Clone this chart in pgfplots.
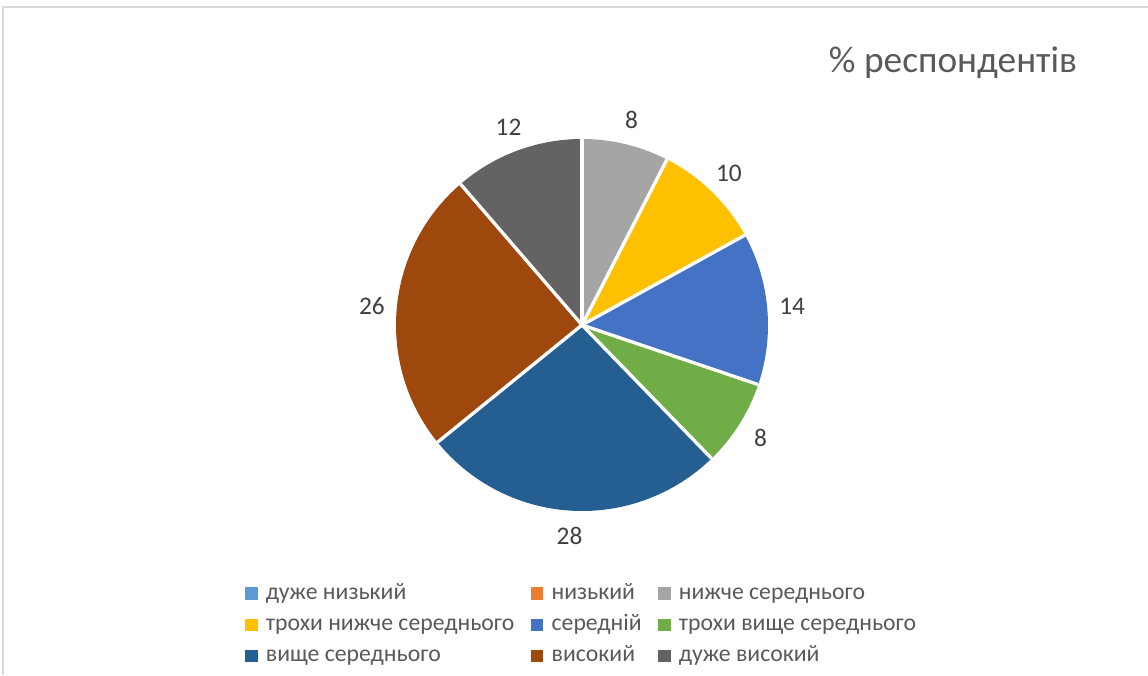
\documentclass[border=0pt]{standalone}
\usepackage{pgfplots}
\pgfplotsset{compat=1.18}
\usepackage{fontspec}
\setmainfont{Carlito}
\definecolor{c1}{HTML}{5B9BD5}
\definecolor{c2}{HTML}{ED7D31}
\definecolor{c3}{HTML}{A5A5A5}
\definecolor{c4}{HTML}{FFC000}
\definecolor{c5}{HTML}{4472C4}
\definecolor{c6}{HTML}{70AD47}
\definecolor{c7}{HTML}{255E91}
\definecolor{c8}{HTML}{9E480E}
\definecolor{c9}{HTML}{636363}
\definecolor{txt}{HTML}{595959}
\definecolor{lbl}{HTML}{404040}
\definecolor{frame}{HTML}{D9D9D9}
% pie data: value / colour
\def\piedata{0/c1,0/c2,8/c3,10/c4,14/c5,8/c6,28/c7,26/c8,12/c9}
\def\pietotal{106}
\def\cx{582}\def\cy{350}
\def\piecmds{}
\def\cum{0}
\foreach \v/\c in \piedata {%
  \pgfmathsetmacro\a{90-\cum/\pietotal*360}%
  \pgfmathsetmacro\b{90-(\cum+\v)/\pietotal*360}%
  \pgfmathsetmacro\m{(\a+\b)/2}%
  \pgfmathsetmacro\lx{\cx+211*cos(\m)}%
  \pgfmathsetmacro\ly{\cy+211*sin(\m)}%
  \ifdim\v pt>0pt
    \xdef\piecmds{\unexpanded\expandafter{\piecmds}%
      \noexpand\fill[\c] (axis cs:\cx,\cy) -- ++(\a:139.5pt) arc[start angle=\a, end angle=\b, radius=139.5pt] -- cycle;%
      \noexpand\node[font=\noexpand\fontsize{19}{22}\noexpand\selectfont, text=lbl] at (axis cs:\lx,\ly) {\v};}%
  \fi
  \pgfmathsetmacro\newcum{\cum+\v}%
  \xdef\cum{\newcum}%
}
% white separators
\def\sepcmds{}
\def\cum{0}
\foreach \v/\c in \piedata {%
  \pgfmathsetmacro\a{90-\cum/\pietotal*360}%
  \ifdim\v pt>0pt
    \xdef\sepcmds{\unexpanded\expandafter{\sepcmds}%
      \noexpand\draw[white, line width=2.5pt] (axis cs:\cx,\cy) -- ++(\a:139.5pt);}%
  \fi
  \pgfmathsetmacro\newcum{\cum+\v}%
  \xdef\cum{\newcum}%
}
\begin{document}
\begin{tikzpicture}
\begin{axis}[
  x=0.75pt, y=0.75pt,
  xmin=0, xmax=1148, ymin=0, ymax=675,
  scale only axis, hide axis, clip=false,
  legend columns=3,
  legend style={draw=none, fill=none, at={(axis cs:245,96)}, anchor=north west,
    font=\fontsize{17.8}{20}\selectfont, text=txt,
    nodes={text height=13pt, text depth=4pt},
    column sep=4.5pt,
    /tikz/every even column/.append style={column sep=10.5pt},
    row sep=2.5pt, inner sep=0pt},
  legend cell align=left,
  legend image code/.code={\fill[#1] (0pt,-4.3pt) rectangle (8.6pt,4.3pt);},
]
\draw[frame, line width=1pt] (axis cs:3,0) -- (axis cs:3,668) -- (axis cs:1148,668);
\piecmds
\sepcmds
\node[font=\fontsize{28}{33}\selectfont, text=txt] at (axis cs:953,612) {\% респондентів};
\addlegendimage{c1}\addlegendentry{дуже низький}
\addlegendimage{c2}\addlegendentry{низький}
\addlegendimage{c3}\addlegendentry{нижче середнього}
\addlegendimage{c4}\addlegendentry{трохи нижче середнього}
\addlegendimage{c5}\addlegendentry{середній}
\addlegendimage{c6}\addlegendentry{трохи вище середнього}
\addlegendimage{c7}\addlegendentry{вище середнього}
\addlegendimage{c8}\addlegendentry{високий}
\addlegendimage{c9}\addlegendentry{дуже високий}
\end{axis}
\pgfresetboundingbox
\path (0,0) rectangle (861pt,506.25pt);
\end{tikzpicture}
\end{document}
